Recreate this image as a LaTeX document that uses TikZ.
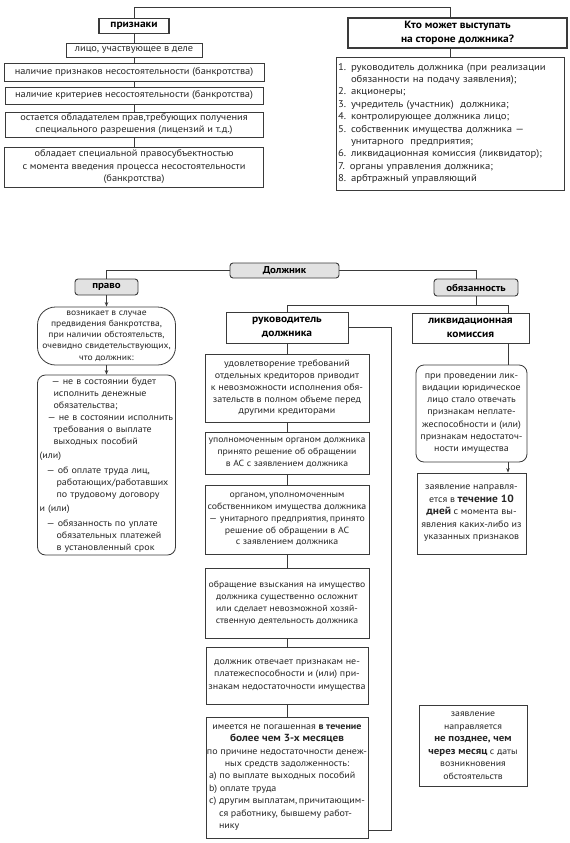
\documentclass[tikz,border=0pt]{standalone}
\usepackage{fontspec}
\setmainfont{PT Sans}[FakeStretch=1.09]
\usetikzlibrary{arrows.meta,calc}
\definecolor{ln}{HTML}{3A3A3A}
\definecolor{gfill}{HTML}{E2E2E2}
\newcommand{\fsz}[2]{\fontsize{#1}{#2}\selectfont}
\tikzset{
  box/.style={draw=ln, line width=0.8pt, fill=white, inner sep=1pt, align=center, text=black!85, font=\fsz{9.5}{12}},
  hbox/.style={box, line width=1.2pt, text=black, font=\bfseries\fsz{10.5}{14}},
  gbox/.style={box, fill=gfill, rounded corners=3pt, line width=0.9pt, text=black, font=\bfseries\fsz{10}{12}},
  tbox/.style={box, text=black, font=\bfseries\fsz{10.5}{14}},
  rbox/.style={box, rounded corners=8pt},
  conn/.style={draw=ln, line width=0.8pt},
  arr/.style={conn, -{Stealth[length=4.5pt,width=3.5pt]}},
}
\begin{document}
\begin{tikzpicture}[x=1pt,y=-1pt]
\useasboundingbox (0,0) rectangle (570,843);
% ---------- top left ----------
\node[hbox, minimum width=70, minimum height=15] (prz) at (134,26) {признаки};
\node[box, minimum width=136, minimum height=14] (t1) at (134,50) {лицо,\ участвующее в деле};
\node[box, minimum width=260, minimum height=18] (t2) at (134,72) {наличие признаков несостоятельности (банкротства)};
\node[box, minimum width=258, minimum height=17] (t3) at (134,95.5) {наличие критериев несостоятельности (банкротства)};
\node[box, minimum width=258, minimum height=25] (t4) at (134,124.5) {остается обладателем прав,требующих получения\\специального разрешения (лицензий и т.д.)};
\node[box, minimum width=259, minimum height=40, font=\fsz{9.5}{12.5}] (t5) at (134,167) {обладает специальной правосубъектностью\\с момента введения процесса несостоятельности\\(банкротства)};
% ---------- top right ----------
\node[hbox, minimum width=219, minimum height=30] (kto) at (457.5,33) {Кто может выступать\\на стороне должника?};
\node[box, align=left, text width=224, inner sep=2pt, minimum height=133, font=\fsz{9.8}{12.4}] (lst) at (450,123.5) {1. руководитель должника (при реализации\\
\phantom{1. }обязанности на подачу заявления);\\
2. акционеры;\\
3. учредитель (участник)\ \ должника;\\
4. контролирующее должника лицо;\\
5. собственник имущества должника —\\
\phantom{5. }унитарного\ \ предприятия;\\
6. ликвидационная комиссия (ликвидатор);\\
7. органы управления должника;\\
8. арбтражный управляющий};
% top connectors
\draw[conn] (prz.north) -- ++(0,-10.5) -| ([xshift=-7.5pt]kto.north);
\draw[conn] ([xshift=-7.5pt]kto.south) -- (lst.north);
\draw[conn] (prz.south) -- (t1.north);
\draw[conn] (t1.south) -- (t2.north);
\draw[conn] (t2.south) -- (t3.north);
\draw[conn] (t3.south) -- (t4.north);
\draw[conn] (t4.south) -- (t5.north);
% ---------- bottom ----------
\node[gbox, minimum width=109, minimum height=15] (dolzh) at (284.5,270.5) {Должник};
\node[gbox, minimum width=63, minimum height=16] (pravo) at (106.5,287) {право};
\node[gbox, minimum width=84, minimum height=17] (obyaz) at (476,287.5) {обязанность};
\node[box, rounded corners=18pt, minimum width=138, minimum height=58, font=\fsz{8.8}{11.3}] (voz) at (106.5,336) {возникает в случае\\предвидения банкротства,\\при наличии обстоятельств,\\очевидно свидетельствующих,\\что должник:};
\node[rbox, align=left, text width=134, inner sep=2pt, minimum height=180, font=\fsz{9.2}{12}] (plist) at (106.5,465) {%
\hspace*{12pt}— не в состоянии будет\\
\hspace*{14pt}исполнить денежные\\
\hspace*{14pt}обязательства;\\
\hspace*{8pt}— не в состоянии исполнить\\
\hspace*{14pt}требования о выплате\\
\hspace*{14pt}выходных пособий\\[2pt]
(или)\\[3pt]
\hspace*{7pt}— об оплате труда лиц,\\
\hspace*{17pt}работающих/работавших\\
\hspace*{17pt}по трудовому договору\\[2pt]
и (или)\\[3pt]
\hspace*{7pt}— обязанность по уплате\\
\hspace*{17pt}обязательных платежей\\
\hspace*{17pt}в установленный срок};
% middle column
\node[tbox, minimum width=122, minimum height=31] (ruk) at (287,327.5) {руководитель\\должника};
\node[box, minimum width=164, minimum height=68, font=\fsz{9.2}{11.8}] (m1) at (287,388) {удовлетворение требований\\отдельных кредиторов приводит\\к невозможности исполнения обя-\\зательств в полном объеме перед\\другими кредиторами};
\node[box, minimum width=164, minimum height=42, font=\fsz{8.9}{11.8}] (m2) at (287,453) {уполномоченным органом должника\\принято решение об обращении\\в АС с заявлением должника};
\node[box, minimum width=164, minimum height=69, font=\fsz{9.0}{11.8}] (m3) at (287,519.5) {органом,\,уполномоченным\\собственником имущества должника\\— унитарного предприятия,\,принято\\решение об обращении в АС\\с заявлением должника};
\node[box, minimum width=164, minimum height=70, font=\fsz{8.9}{12}] (m4) at (287,603) {обращение взыскания на имущество\\должника существенно осложнит\\или сделает невозможной хозяй-\\ственную деятельность должника};
\node[box, minimum width=162, minimum height=57, font=\fsz{9.2}{12.2}] (m5) at (287,675.5) {должник отвечает признакам не-\\платежеспособности и (или) при-\\знакам недостаточности имущества};
\node[box, minimum width=162, minimum height=121, font=\fsz{9.2}{12.4}] (m6) at (287,777.5) {имеется не погашенная \textbf{в течение}\\
{\bfseries\fsz{10.3}{12.4}более чем 3-х месяцев}\\
по причине недостаточности денеж-\\
ных средств задолженность:\\
\makebox[156pt][l]{a) по выплате выходных пособий}\\
\makebox[156pt][l]{b) оплате труда}\\
\makebox[156pt][l]{c) другим выплатам,\,причитающим-}\\
\makebox[156pt][l]{\phantom{c) }ся работнику,\ бывшему работ-}\\
\makebox[156pt][l]{\phantom{c) }нику}};
% right column
\node[tbox, minimum width=117, minimum height=30] (likv) at (470.5,328) {ликвидационная\\комиссия};
\node[rbox, minimum width=111, minimum height=97, font=\fsz{9.2}{12.3}] (pri) at (471.5,413.5) {при проведении лик-\\видации юридическое\\лицо стало отвечать\\признакам неплате-\\жеспособности и (или)\\признакам недостаточ-\\ности имущества};
\node[box, minimum width=109, minimum height=81, font=\fsz{9.2}{12.5}] (zay1) at (471.5,513.5) {заявление направля-\\ется в {\bfseries\fsz{10.5}{12.5}течение 10}\\{\bfseries\fsz{10.5}{12.5}дней} с момента вы-\\явления каких-либо из\\указанных признаков};
\node[box, minimum width=108, minimum height=81, font=\fsz{9}{12.5}] (zay2) at (473,745.5) {заявление\\направляется\\{\bfseries\fsz{10}{12.5}не позднее, чем}\\{\bfseries\fsz{10}{12.5}через месяц} с даты\\возникновения\\обстоятельств};
% bottom connectors
\draw[conn] (dolzh.west) -| (pravo.north);
\draw[conn] (dolzh.east) -| (obyaz.north);
\draw[arr] (pravo.south) -- (voz.north);
\draw[arr] (voz.south) -- (plist.north);
\coordinate (hub) at (476,305);
\coordinate (rcol) at (508,305);
\draw[conn] (obyaz.south) -- (hub);
\draw[conn] (ruk.north) |- (rcol) -- (rcol |- likv.north);
\draw[conn] (rcol |- likv.south) -- (rcol |- pri.north);
\draw[arr] (rcol |- pri.south) -- (rcol |- zay1.north);
\draw[conn] (ruk.south) -- (m1.north);
\draw[conn] (m1.south) -- (m2.north);
\draw[conn] (m2.south) -- (m3.north);
\draw[conn] (m3.south) -- (m4.north);
\draw[conn] (m4.south) -- (m5.north);
\draw[conn] (m5.south) -- (m6.north);
\coordinate (brk) at (391,830);
\draw[conn] (ruk.east) -| (brk) -- (brk -| m6.east);
\end{tikzpicture}
\end{document}
